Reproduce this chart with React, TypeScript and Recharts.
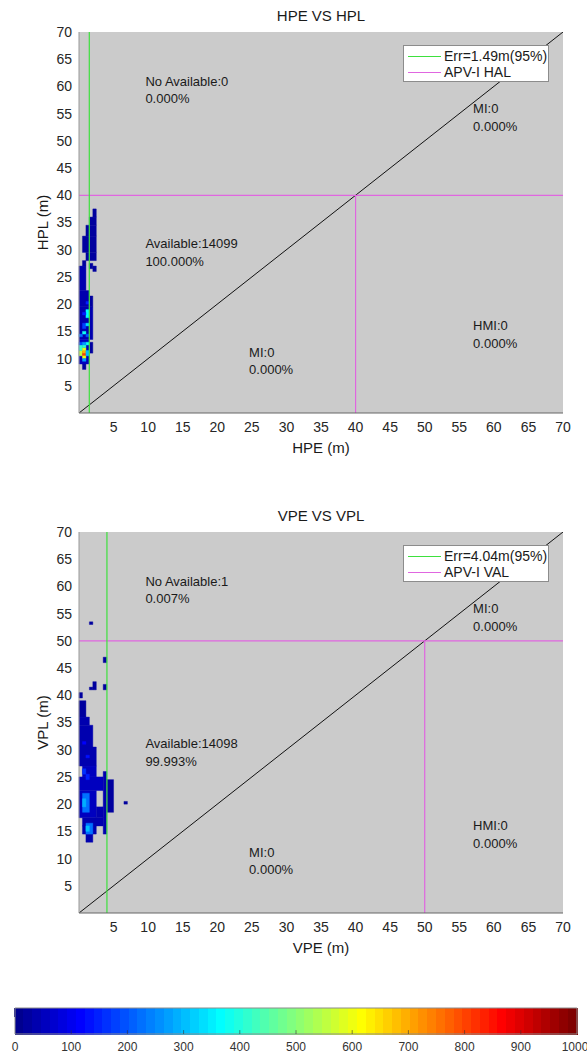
import React from 'react';
import {
  ComposedChart,
  XAxis,
  YAxis,
  Line,
  ReferenceLine,
  ReferenceArea,
  ReferenceDot,
  Label,
} from 'recharts';

const FONT = '"Liberation Sans", Arial, Helvetica, sans-serif';

// ---- data ----
const axisTicks = [5, 10, 15, 20, 25, 30, 35, 40, 45, 50, 55, 60, 65, 70];
const diagonal = [
  { x: 0, y: 0 },
  { x: 70, y: 70 },
];
const colorbarTicks = [0, 100, 200, 300, 400, 500, 600, 700, 800, 900, 1000];
const colorbarRange = [
  { v: 0, y: 0 },
  { v: 1000, y: 1 },
];

// heat-map blocks: [x1, x2, y1, y2, count]
const hplBase = [
  [2.0, 2.5, 36.0, 37.5, 25],
  [1.5, 2.5, 34.5, 36.0, 25],
  [1.0, 2.5, 32.5, 34.5, 30],
  [0.5, 2.5, 29.5, 32.5, 30],
  [1.0, 2.5, 28.0, 29.5, 25],
  [0.5, 1.0, 27.0, 28.0, 20],
  [1.5, 2.0, 26.5, 27.5, 20],
  [2.0, 2.5, 26.0, 27.0, 20],
  [0.0, 1.0, 22.5, 27.0, 35],
  [0.0, 1.5, 19.5, 22.5, 40],
  [1.5, 2.0, 19.5, 21.5, 25],
  [0.0, 2.0, 13.5, 19.5, 45],
  [0.0, 1.5, 9.0, 13.5, 60],
  [1.5, 2.0, 11.0, 13.0, 25],
  [0.5, 1.0, 8.0, 9.0, 30],
];
const hplHot = [
  [0.0, 0.5, 10.5, 11.5, 560],
  [0.0, 0.5, 11.5, 12.5, 420],
  [0.5, 1.0, 10.5, 11.0, 810],
  [0.5, 1.0, 11.0, 11.5, 700],
  [0.5, 1.0, 10.0, 10.5, 600],
  [0.5, 1.0, 11.5, 12.0, 600],
  [1.0, 1.5, 10.5, 11.5, 300],
  [0.5, 1.0, 9.5, 10.0, 280],
  [0.5, 1.0, 12.0, 12.5, 420],
  [0.0, 0.5, 12.5, 13.0, 200],
  [1.0, 1.5, 12.5, 13.0, 380],
  [0.5, 1.0, 12.5, 13.0, 280],
  [0.5, 1.0, 14.5, 15.0, 390],
  [0.0, 0.5, 14.0, 14.5, 230],
  [1.0, 1.5, 14.0, 14.5, 200],
  [0.5, 1.0, 15.5, 16.5, 180],
  [1.0, 1.5, 16.0, 16.5, 330],
  [1.0, 1.5, 17.5, 19.0, 360],
  [0.5, 1.0, 18.0, 18.5, 150],
  [1.0, 1.5, 20.0, 20.5, 150],
];

const vplBase = [
  [1.5, 2.0, 53.0, 53.5, 20],
  [3.5, 4.0, 46.0, 47.0, 30],
  [2.0, 2.5, 41.0, 42.5, 25],
  [1.5, 2.0, 41.0, 41.5, 25],
  [3.5, 4.0, 41.0, 42.0, 30],
  [0.0, 0.5, 39.5, 40.5, 25],
  [0.0, 1.0, 36.0, 39.0, 30],
  [0.0, 1.5, 34.5, 36.0, 35],
  [0.0, 2.0, 30.5, 34.5, 40],
  [0.0, 2.5, 27.0, 30.5, 45],
  [0.5, 2.5, 25.0, 27.0, 50],
  [0.0, 3.5, 22.5, 25.0, 50],
  [0.0, 2.5, 17.5, 22.5, 55],
  [2.5, 3.5, 17.5, 19.5, 40],
  [3.5, 4.0, 14.5, 26.0, 35],
  [4.0, 5.0, 18.5, 24.5, 30],
  [0.5, 3.5, 16.0, 17.5, 45],
  [0.5, 2.5, 14.5, 16.0, 45],
  [1.0, 2.0, 13.0, 14.5, 35],
  [6.5, 7.0, 20.0, 20.5, 20],
];
const vplHot = [
  [0.5, 1.5, 18.5, 22.0, 230],
  [0.5, 1.0, 19.5, 21.0, 290],
  [1.0, 2.0, 14.5, 16.5, 230],
  [1.0, 1.5, 15.0, 16.0, 300],
  [1.0, 1.5, 24.5, 25.5, 150],
  [0.5, 1.0, 25.5, 26.5, 160],
  [1.0, 1.5, 28.5, 29.0, 130],
  [0.5, 1.0, 31.0, 31.5, 120],
];

const hplNotes = [
  { x: 9.6, y: 61.0, l1: 'No Available:0', l2: '0.000%' },
  { x: 57.0, y: 55.9, l1: 'MI:0', l2: '0.000%' },
  { x: 9.6, y: 31.1, l1: 'Available:14099', l2: '100.000%' },
  { x: 24.6, y: 11.2, l1: 'MI:0', l2: '0.000%' },
  { x: 57.0, y: 16.0, l1: 'HMI:0', l2: '0.000%' },
];
const vplNotes = [
  { x: 9.6, y: 61.0, l1: 'No Available:1', l2: '0.007%' },
  { x: 57.0, y: 55.9, l1: 'MI:0', l2: '0.000%' },
  { x: 9.6, y: 31.1, l1: 'Available:14098', l2: '99.993%' },
  { x: 24.6, y: 11.2, l1: 'MI:0', l2: '0.000%' },
  { x: 57.0, y: 16.0, l1: 'HMI:0', l2: '0.000%' },
];

// ---- colormap (jet, 64 levels) ----
const clamp = (v: number) => Math.max(0, Math.min(1, v));
function jetAt(t: number) {
  const r = clamp(1.5 - Math.abs(4 * t - 3));
  const g = clamp(1.5 - Math.abs(4 * t - 2));
  const b = clamp(1.5 - Math.abs(4 * t - 1));
  const h = (v: number) => Math.round(v * 255).toString(16).padStart(2, '0');
  return '#' + h(r) + h(g) + h(b);
}
function levelColor(idx: number) {
  return jetAt((idx + 1) / 64);
}
function countColor(c: number) {
  const idx = Math.min(63, Math.floor((c / 1000) * 64));
  return levelColor(idx);
}
const bands = Array.from({ length: 64 }, (_, i) => i);

const GREEN = '#3ee03e';
const MAGENTA = '#e066e0';
const BG = '#cbcbcb';

function Note(props: any) {
  const { cx, cy, l1, l2 } = props;
  return (
    <text x={cx} y={cy} fontFamily={FONT} fontSize={13} fill="#1a1a1a">
      <tspan x={cx} dy="0.35em">{l1}</tspan>
      <tspan x={cx} dy="17.5">{l2}</tspan>
    </text>
  );
}

type PanelProps = {
  top: number;
  title: string;
  xLabel: string;
  yLabel: string;
  base: number[][];
  hot: number[][];
  err: number;
  errText: string;
  lim: number;
  limText: string;
  notes: { x: number; y: number; l1: string; l2: string }[];
};

function Panel(p: PanelProps) {
  const cells = [...p.base, ...p.hot];
  return (
    <div style={{ position: 'absolute', left: 0, top: p.top, width: 587, height: 460 }}>
      <div
        style={{
          position: 'absolute',
          left: 79,
          width: 484,
          top: 6,
          textAlign: 'center',
          fontFamily: FONT,
          fontSize: 15,
          lineHeight: '20px',
          color: '#1a1a1a',
          zIndex: 2,
        }}
      >
        {p.title}
      </div>
      <ComposedChart
        width={587}
        height={460}
        data={diagonal}
        margin={{ top: 32, right: 24, bottom: 2, left: 29 }}
      >
        <XAxis
          dataKey="x"
          type="number"
          domain={[0, 70]}
          ticks={axisTicks}
          allowDataOverflow
          height={45}
          tickLine={false}
          tickMargin={3}
          axisLine={{ stroke: '#666' }}
          tick={{ fontSize: 14, fill: '#262626', fontFamily: FONT }}
        >
          <Label
            value={p.xLabel}
            position="insideBottom"
            offset={5}
            style={{ fontSize: 15, fill: '#1a1a1a', fontFamily: FONT }}
          />
        </XAxis>
        <YAxis
          type="number"
          domain={[0, 70]}
          ticks={axisTicks}
          allowDataOverflow
          width={50}
          tickLine={false}
          tickMargin={1}
          axisLine={{ stroke: '#999' }}
          tick={{ fontSize: 14, fill: '#262626', fontFamily: FONT }}
        >
          <Label
            value={p.yLabel}
            angle={-90}
            position="insideLeft"
            offset={14}
            style={{ fontSize: 15, fill: '#1a1a1a', fontFamily: FONT, textAnchor: 'middle' }}
          />
        </YAxis>
        <ReferenceArea x1={0} x2={70} y1={0} y2={70} fill={BG} fillOpacity={1} stroke="none" />
        {cells.map((c, i) => (
          <ReferenceArea
            key={'c' + i}
            x1={c[0]}
            x2={c[1]}
            y1={c[2]}
            y2={c[3]}
            fill={countColor(c[4])}
            fillOpacity={1}
            stroke={countColor(c[4])}
            strokeWidth={0.4}
          />
        ))}
        <Line
          dataKey="y"
          stroke="#111"
          strokeWidth={1}
          dot={false}
          activeDot={false}
          isAnimationActive={false}
        />
        <ReferenceLine y={p.lim} stroke={MAGENTA} strokeWidth={1.2} />
        <ReferenceLine
          segment={[
            { x: p.lim, y: 0 },
            { x: p.lim, y: p.lim },
          ]}
          stroke={MAGENTA}
          strokeWidth={1.2}
        />
        <ReferenceLine x={p.err} stroke={GREEN} strokeWidth={1.2} />
        {p.notes.map((n, i) => (
          <ReferenceDot
            key={'n' + i}
            x={n.x}
            y={n.y}
            r={0}
            shape={(sp: any) => <Note cx={sp.cx} cy={sp.cy} l1={n.l1} l2={n.l2} />}
          />
        ))}
      </ComposedChart>
      <div
        style={{
          position: 'absolute',
          left: 403,
          top: 45,
          width: 144,
          height: 35,
          background: '#fff',
          border: '1px solid #8c8c8c',
          fontFamily: FONT,
          fontSize: 14,
          color: '#1a1a1a',
          zIndex: 2,
        }}
      >
        {[
          { c: GREEN, t: p.errText },
          { c: MAGENTA, t: p.limText },
        ].map((r, i) => (
          <div
            key={i}
            style={{ position: 'absolute', left: 4, top: 2 + i * 16, height: 16, display: 'flex', alignItems: 'center' }}
          >
            <div style={{ width: 33, height: 0, borderTop: `1.2px solid ${r.c}`, marginRight: 3 }} />
            <span style={{ lineHeight: '16px', whiteSpace: 'nowrap' }}>{r.t}</span>
          </div>
        ))}
      </div>
    </div>
  );
}

function Colorbar() {
  return (
    <div style={{ position: 'absolute', left: 0, top: 995, width: 587, height: 59 }}>
      <ComposedChart
        width={587}
        height={59}
        data={colorbarRange}
        margin={{ top: 13, right: 10, bottom: 0, left: 15 }}
      >
        <XAxis
          dataKey="v"
          type="number"
          domain={[0, 1000]}
          ticks={colorbarTicks}
          height={20}
          tickLine={false}
          axisLine={false}
          tickSize={0}
          tickMargin={8}
          tick={{ fontSize: 12, fill: '#333', fontFamily: FONT }}
        />
        <YAxis type="number" domain={[0, 1]} hide />
        <Line dataKey="y" stroke="none" dot={false} activeDot={false} isAnimationActive={false} />
        {bands.map((i) => (
          <ReferenceArea
            key={'b' + i}
            x1={(i * 1000) / 64}
            x2={((i + 1) * 1000) / 64}
            y1={0}
            y2={1}
            fill={levelColor(i)}
            fillOpacity={1}
            stroke={levelColor(i)}
            strokeOpacity={1}
            strokeWidth={1}
            shapeRendering="crispEdges"
          />
        ))}
        {colorbarTicks.slice(1, -1).map((t) => (
          <ReferenceLine
            key={'t' + t}
            segment={[
              { x: t, y: 0 },
              { x: t, y: 0.15 },
            ]}
            stroke="#333"
            strokeOpacity={0.6}
          />
        ))}
        <ReferenceArea x1={0} x2={1000} y1={0} y2={1} fill="none" stroke="#8c8c8c" strokeWidth={1} />
      </ComposedChart>
    </div>
  );
}

export default function App() {
  return (
    <div style={{ position: 'absolute', left: 0, top: 0, width: 587, height: 1054, background: '#fff', overflow: 'hidden' }}>
      <Panel
        top={0}
        title="HPE VS HPL"
        xLabel="HPE (m)"
        yLabel="HPL (m)"
        base={hplBase}
        hot={hplHot}
        err={1.49}
        errText="Err=1.49m(95%)"
        lim={40}
        limText="APV-I HAL"
        notes={hplNotes}
      />
      <Panel
        top={500}
        title="VPE VS VPL"
        xLabel="VPE (m)"
        yLabel="VPL (m)"
        base={vplBase}
        hot={vplHot}
        err={4.04}
        errText="Err=4.04m(95%)"
        lim={50}
        limText="APV-I VAL"
        notes={vplNotes}
      />
      <Colorbar />
    </div>
  );
}
